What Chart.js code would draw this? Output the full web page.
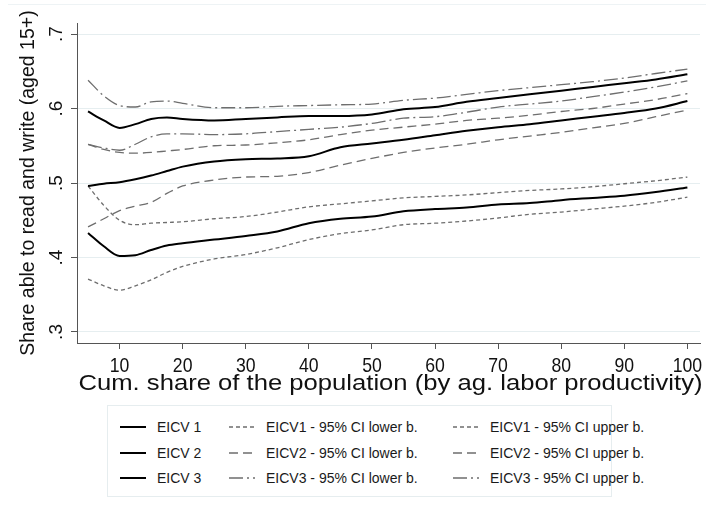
<!DOCTYPE html>
<html>
<head>
<meta charset="utf-8">
<script src="https://cdn.jsdelivr.net/npm/chart.js@4.4.1/dist/chart.umd.min.js"></script>
<style>
  body { margin: 0; background: #fff; font-family: "Liberation Sans", Arial, sans-serif; }
  #wrap { position: relative; width: 714px; height: 515px; }
  #topline { position: absolute; left: 8px; top: 4px; width: 698px; height: 1px; background: #eef3f5; }
  #chartBox { position: absolute; left: 0; top: 0; width: 714px; height: 400px; }
  #legend { position: absolute; left: 107px; top: 405px; width: 505px; height: 92px;
            border: 1px solid #e6edef; box-sizing: border-box; font-size: 14px; color: #1a1a1a; }
  .item { position: absolute; display: flex; align-items: center; height: 16px; white-space: nowrap; }
  .item svg { margin-right: 11px; }
</style>
</head>
<body>
<div id="wrap">
  <div id="topline"></div>
  <div id="chartBox"><canvas id="c" width="714" height="400"></canvas></div>
  <div id="legend"></div>
</div>
<script>
// cumulative share of population (x)
const xs = [5, 7.5, 10, 12.5, 15, 17.5, 20, 25, 30, 35, 40, 45, 50, 55, 60, 65, 70, 75, 80, 85, 90, 95, 100];

const eicv1      = [0.433, 0.415, 0.402, 0.403, 0.410, 0.416, 0.419, 0.424, 0.429, 0.435, 0.446, 0.452, 0.455, 0.462, 0.465, 0.467, 0.471, 0.473, 0.477, 0.480, 0.483, 0.488, 0.494];
const eicv1Lower = [0.371, 0.362, 0.356, 0.362, 0.370, 0.380, 0.388, 0.398, 0.404, 0.413, 0.424, 0.432, 0.437, 0.444, 0.446, 0.449, 0.453, 0.458, 0.461, 0.465, 0.469, 0.474, 0.481];
const eicv1Upper = [0.496, 0.470, 0.450, 0.444, 0.446, 0.447, 0.448, 0.452, 0.455, 0.461, 0.468, 0.472, 0.476, 0.480, 0.482, 0.484, 0.487, 0.490, 0.492, 0.495, 0.499, 0.503, 0.508];

const eicv2      = [0.496, 0.499, 0.501, 0.505, 0.510, 0.516, 0.522, 0.529, 0.532, 0.533, 0.536, 0.548, 0.553, 0.558, 0.564, 0.570, 0.575, 0.579, 0.584, 0.589, 0.594, 0.600, 0.610];
const eicv2Lower = [0.441, 0.452, 0.463, 0.469, 0.474, 0.486, 0.496, 0.504, 0.508, 0.509, 0.514, 0.524, 0.533, 0.541, 0.547, 0.552, 0.558, 0.563, 0.568, 0.574, 0.580, 0.589, 0.598];
const eicv2Upper = [0.552, 0.545, 0.541, 0.540, 0.541, 0.543, 0.545, 0.550, 0.551, 0.554, 0.558, 0.565, 0.571, 0.575, 0.579, 0.584, 0.587, 0.591, 0.596, 0.600, 0.606, 0.612, 0.620];

const eicv3      = [0.596, 0.584, 0.574, 0.579, 0.586, 0.588, 0.586, 0.584, 0.586, 0.588, 0.590, 0.590, 0.592, 0.599, 0.602, 0.609, 0.614, 0.619, 0.624, 0.629, 0.634, 0.639, 0.646];
const eicv3Lower = [0.552, 0.547, 0.544, 0.552, 0.562, 0.566, 0.566, 0.565, 0.566, 0.569, 0.572, 0.575, 0.580, 0.587, 0.589, 0.595, 0.602, 0.606, 0.610, 0.616, 0.622, 0.629, 0.637];
const eicv3Upper = [0.638, 0.617, 0.604, 0.602, 0.609, 0.610, 0.607, 0.601, 0.601, 0.603, 0.604, 0.605, 0.606, 0.611, 0.614, 0.619, 0.624, 0.628, 0.632, 0.636, 0.641, 0.647, 0.653];

const xTicks = [10, 20, 30, 40, 50, 60, 70, 80, 90, 100];
const yTicks = [0.3, 0.4, 0.5, 0.6, 0.7];
const yTickLabels = ['.3', '.4', '.5', '.6', '.7'];
const xTitle = 'Cum. share of the population (by ag. labor productivity)';
const yTitle = 'Share able to read and write (aged 15+)';

const gray = '#6e6e6e';
const dashes = { d1: [4, 3], d2: [9, 5], d3: [14, 4, 2, 4] };
const FONT = '"Liberation Sans", Arial, sans-serif';

function pts(ys) { return xs.map((x, i) => ({ x: x, y: ys[i] })); }

function ds(label, ys, dash, color, width) {
  return {
    label, data: pts(ys), borderColor: color, borderWidth: width, borderDash: dash,
    pointRadius: 0, fill: false, cubicInterpolationMode: 'monotone'
  };
}

const datasets = [
  ds('EICV 1', eicv1, [], '#000', 2),
  ds('EICV 2', eicv2, [], '#000', 2),
  ds('EICV 3', eicv3, [], '#000', 2),
  ds('EICV1 - 95% CI lower b.', eicv1Lower, dashes.d1, gray, 1.3),
  ds('EICV2 - 95% CI lower b.', eicv2Lower, dashes.d2, gray, 1.3),
  ds('EICV3 - 95% CI lower b.', eicv3Lower, dashes.d3, gray, 1.3),
  ds('EICV1 - 95% CI upper b.', eicv1Upper, dashes.d1, gray, 1.3),
  ds('EICV2 - 95% CI upper b.', eicv2Upper, dashes.d2, gray, 1.3),
  ds('EICV3 - 95% CI upper b.', eicv3Upper, dashes.d3, gray, 1.3)
];

// Stata-look axis text: rotated y tick labels, narrow x tick labels, wide x title
const axisTextPlugin = {
  id: 'axisText',
  afterDraw(chart) {
    const ctx = chart.ctx, xsc = chart.scales.x, ysc = chart.scales.y;
    ctx.save();
    ctx.fillStyle = '#111';
    ctx.textAlign = 'center';
    ctx.textBaseline = 'middle';

    ctx.font = '19px ' + FONT;
    yTicks.forEach((v, i) => {
      ctx.save();
      ctx.translate(57, ysc.getPixelForValue(v));
      ctx.rotate(-Math.PI / 2);
      ctx.fillText(yTickLabels[i], 0, 0);
      ctx.restore();
    });

    ctx.font = '21px ' + FONT;
    xTicks.forEach(v => {
      ctx.save();
      ctx.translate(xsc.getPixelForValue(v), 366);
      ctx.scale(0.84, 1);
      ctx.fillText(String(v), 0, 0);
      ctx.restore();
    });

    ctx.font = '21.5px ' + FONT;
    const w = ctx.measureText(xTitle).width;
    ctx.save();
    ctx.translate((xsc.left + xsc.right) / 2 + 2, 384);
    ctx.scale(624 / w, 1);
    ctx.fillText(xTitle, 0, 0);
    ctx.restore();
    ctx.restore();
  }
};

new Chart(document.getElementById('c'), {
  type: 'line',
  data: { datasets },
  plugins: [axisTextPlugin],
  options: {
    responsive: false,
    animation: false,
    devicePixelRatio: 1,
    layout: { padding: { top: 23, right: 14, left: 0, bottom: 7 } },
    plugins: { legend: { display: false }, tooltip: { enabled: false } },
    scales: {
      x: {
        type: 'linear', min: 3.25, max: 102,
        afterBuildTicks: s => { s.ticks = xTicks.map(v => ({ value: v })); },
        afterFit: s => { s.height = 50; },
        grid: { drawOnChartArea: false, drawTicks: true, tickLength: 6, tickColor: '#555' },
        border: { color: '#555', width: 1 },
        ticks: { display: false }
      },
      y: {
        type: 'linear', min: 0.2852, max: 0.7148,
        afterBuildTicks: s => { s.ticks = yTicks.map(v => ({ value: v })); },
        afterFit: s => { s.width = 77; },
        grid: { color: '#e6eef0', tickLength: 6, tickColor: '#555', lineWidth: 1 },
        border: { color: '#555', width: 1 },
        ticks: { display: false },
        title: { display: true, text: yTitle,
                 color: '#111', padding: { top: 19, bottom: 0 },
                 font: { size: 19.5, lineHeight: 1, family: FONT } }
      }
    }
  }
});

// legend: three columns, matching the original layout
const legendCols = [
  { sx: 12, items: [0, 1, 2] },
  { sx: 121, items: [3, 4, 5] },
  { sx: 345, items: [6, 7, 8] }
];
const rowY = [13, 39, 64];
const legend = document.getElementById('legend');
legendCols.forEach(col => {
  col.items.forEach((idx, r) => {
    const d = datasets[idx];
    const el = document.createElement('div');
    el.className = 'item';
    el.style.left = col.sx + 'px';
    el.style.top = rowY[r] + 'px';
    const dash = d.borderDash.length ? d.borderDash.join(',') : 'none';
    el.innerHTML = '<svg width="26" height="4"><line x1="0" y1="2" x2="26" y2="2" stroke="' + d.borderColor +
      '" stroke-width="' + d.borderWidth + '" stroke-dasharray="' + dash + '"/></svg><span>' + d.label + '</span>';
    legend.appendChild(el);
  });
});
</script>
</body>
</html>
